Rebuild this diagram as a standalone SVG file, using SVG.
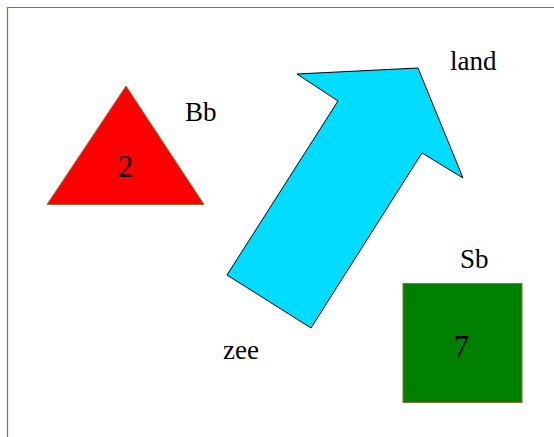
<svg xmlns="http://www.w3.org/2000/svg" width="554" height="437" viewBox="0 0 554 437">
  <style>
    .lbl { font-family: "Liberation Serif", "Times New Roman", serif; font-size: 27px; fill: #000; }
    .num { font-family: "Liberation Serif", "Times New Roman", serif; font-size: 31px; fill: #000; text-anchor: middle; }
    .edge { stroke: #9c6a35; stroke-width: 1; }
  </style>
  <rect width="554" height="437" fill="#fff"/>
  <!-- frame -->
  <path d="M7.5,437 V7.5 H554" fill="none" stroke="#a0672e" stroke-width="1.2"/>

  <g id="connectors"></g>

  <g id="node-bb">
    <polygon points="126,86 47,204.5 204,204.5" fill="#ff0000" class="edge"/>
    <text class="num" x="125.5" y="177">2</text>
    <text class="lbl" x="185" y="121">Bb</text>
  </g>

  <g id="node-arrow">
    <polygon points="297,74 418,68 463,178 422,153 311,328 227,275 338,101" fill="#00dcff" stroke="#000" stroke-width="1"/>
    <text class="lbl" x="450" y="70">land</text>
    <text class="lbl" x="223" y="359">zee</text>
  </g>

  <g id="node-sb">
    <rect x="403" y="283.5" width="119" height="119" fill="#008000" class="edge"/>
    <text class="num" x="461.5" y="357">7</text>
    <text class="lbl" x="460" y="268">Sb</text>
  </g>
</svg>
